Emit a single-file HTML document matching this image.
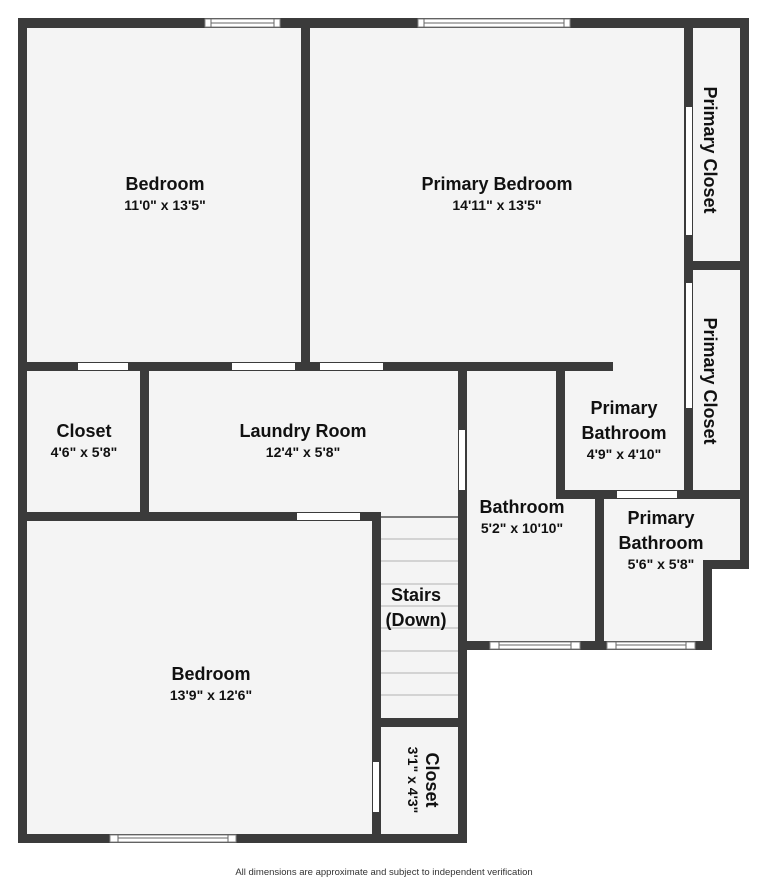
<!DOCTYPE html>
<html><head><meta charset="utf-8"><style>
html,body{margin:0;padding:0;background:#fff;}
svg{display:block;}
text{font-family:"Liberation Sans",sans-serif;font-weight:bold;fill:#111;text-anchor:middle;}
.t{font-size:18px;}
.d{font-size:14px;}
</style></head><body>
<svg width="768" height="881" viewBox="0 0 768 881" xmlns="http://www.w3.org/2000/svg">
<!-- floor fills -->
<g fill="#f4f4f4">
<rect x="26" y="26" width="715" height="340"/>
<rect x="26" y="366" width="440" height="472"/>
<rect x="466" y="366" width="275" height="200"/>
<rect x="466" y="366" width="240" height="280"/>
</g>
<!-- stair lines -->
<g stroke="#c8c8c8" stroke-width="1.5">
<line x1="380" y1="539" x2="458" y2="539"/>
<line x1="380" y1="561" x2="458" y2="561"/>
<line x1="380" y1="584" x2="458" y2="584"/>
<line x1="380" y1="606" x2="458" y2="606"/>
<line x1="380" y1="628" x2="458" y2="628"/>
<line x1="380" y1="651" x2="458" y2="651"/>
<line x1="380" y1="673" x2="458" y2="673"/>
<line x1="380" y1="695" x2="458" y2="695"/>
</g>
<line x1="380" y1="517" x2="458" y2="517" stroke="#555" stroke-width="1.5"/>
<!-- walls -->
<g fill="#3b3b3b">
<rect x="18" y="18" width="731" height="10"/>
<rect x="18" y="18" width="9" height="825"/>
<rect x="740" y="18" width="9" height="550"/>
<rect x="301" y="18" width="9" height="353"/>
<rect x="684" y="18" width="9" height="480"/>
<rect x="684" y="261" width="65" height="9"/>
<rect x="18" y="362" width="595" height="9"/>
<rect x="140" y="362" width="9" height="158"/>
<rect x="458" y="366" width="9" height="284"/>
<rect x="18" y="512" width="363" height="9"/>
<rect x="556" y="366" width="9" height="132"/>
<rect x="556" y="490" width="193" height="9"/>
<rect x="595" y="490" width="9" height="160"/>
<rect x="703" y="560" width="46" height="9"/>
<rect x="703" y="560" width="9" height="90"/>
<rect x="458" y="641" width="254" height="9"/>
<rect x="372" y="512" width="9" height="331"/>
<rect x="372" y="718" width="94" height="9"/>
<rect x="458" y="641" width="9" height="202"/>
<rect x="18" y="834" width="449" height="9"/>
</g>
<!-- openings -->
<g fill="#ffffff">
<rect x="686" y="107" width="6" height="128"/>
<rect x="686" y="283" width="6" height="125"/>
<rect x="78" y="363" width="50" height="7"/>
<rect x="232" y="363" width="63" height="7"/>
<rect x="320" y="363" width="63" height="7"/>
<rect x="459" y="430" width="6" height="60"/>
<rect x="297" y="513" width="63" height="7"/>
<rect x="617" y="491" width="60" height="7"/>
<rect x="373" y="762" width="6" height="50"/>
</g>
<!-- windows -->
<g fill="#fff" stroke="#888" stroke-width="1">
<rect x="205" y="19" width="75" height="8"/>
<rect x="418" y="19" width="152" height="8"/>
<rect x="110" y="835" width="126" height="7"/>
<rect x="490" y="642" width="90" height="7"/>
<rect x="607" y="642" width="88" height="7"/>
</g>
<g stroke="#666" stroke-width="1">
<line x1="211" y1="23" x2="274" y2="23"/><line x1="211" y1="19" x2="211" y2="27"/><line x1="274" y1="19" x2="274" y2="27"/>
<line x1="424" y1="23" x2="564" y2="23"/><line x1="424" y1="19" x2="424" y2="27"/><line x1="564" y1="19" x2="564" y2="27"/>
<line x1="118" y1="838" x2="228" y2="838"/><line x1="118" y1="835" x2="118" y2="842"/><line x1="228" y1="835" x2="228" y2="842"/>
<line x1="499" y1="645" x2="571" y2="645"/><line x1="499" y1="642" x2="499" y2="649"/><line x1="571" y1="642" x2="571" y2="649"/>
<line x1="616" y1="645" x2="686" y2="645"/><line x1="616" y1="642" x2="616" y2="649"/><line x1="686" y1="642" x2="686" y2="649"/>
</g>
<!-- labels -->
<text class="t" x="165" y="190">Bedroom</text>
<text class="d" x="165" y="210">11'0" x 13'5"</text>
<text class="t" x="497" y="190">Primary Bedroom</text>
<text class="d" x="497" y="210">14'11" x 13'5"</text>
<text class="t" x="84" y="437">Closet</text>
<text class="d" x="84" y="457">4'6" x 5'8"</text>
<text class="t" x="303" y="437">Laundry Room</text>
<text class="d" x="303" y="457">12'4" x 5'8"</text>
<text class="t" x="522" y="513">Bathroom</text>
<text class="d" x="522" y="533">5'2" x 10'10"</text>
<text class="t" x="624" y="414">Primary</text>
<text class="t" x="624" y="439">Bathroom</text>
<text class="d" x="624" y="459">4'9" x 4'10"</text>
<text class="t" x="661" y="524">Primary</text>
<text class="t" x="661" y="549">Bathroom</text>
<text class="d" x="661" y="569">5'6" x 5'8"</text>
<text class="t" x="416" y="601">Stairs</text>
<text class="t" x="416" y="626">(Down)</text>
<text class="t" x="211" y="680">Bedroom</text>
<text class="d" x="211" y="700">13'9" x 12'6"</text>
<text class="t" transform="translate(710,150) rotate(90)" x="0" y="6">Primary Closet</text>
<text class="t" transform="translate(710,381) rotate(90)" x="0" y="6">Primary Closet</text>
<text class="t" transform="translate(425,780) rotate(90)" x="0" y="-1">Closet</text>
<text class="d" transform="translate(425,780) rotate(90)" x="0" y="17">3'1" x 4'3"</text>
<text x="384" y="875" style="font-size:9.5px;font-weight:normal;fill:#333">All dimensions are approximate and subject to independent verification</text>
</svg>
</body></html>
